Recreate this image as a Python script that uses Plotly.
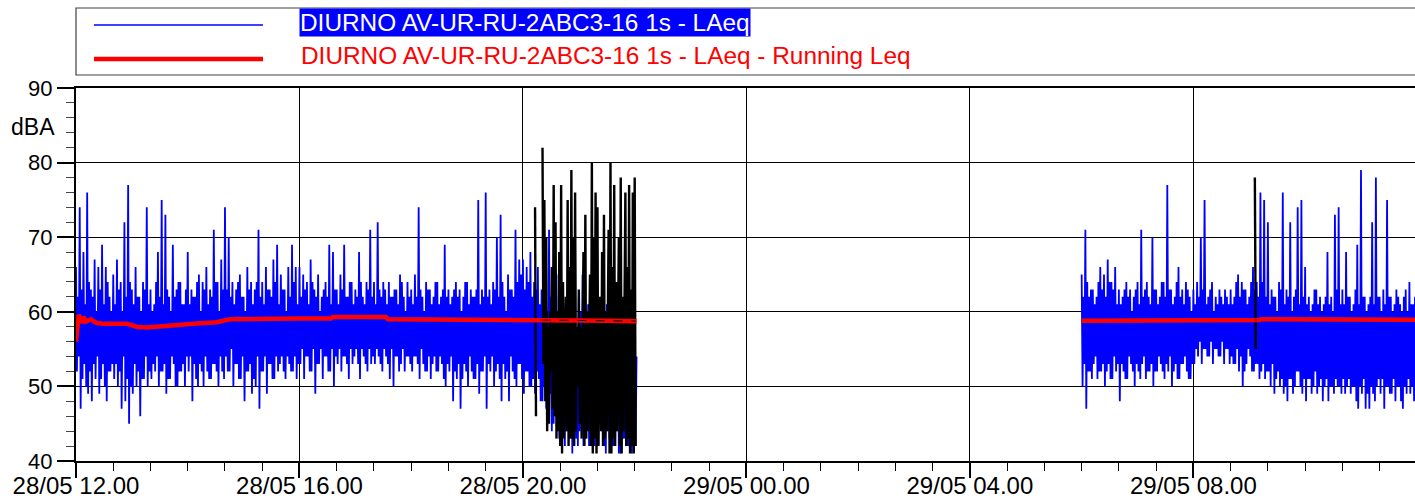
import pandas as pd
import plotly.graph_objects as go

# ---------------- data ----------------
# LAeq 1s, summarised as alternating peak / trough readings, one per minute
laeq_day_start = "2024-05-28 12:00"
laeq_step = "1min"
laeq_day = [
    66, 52, 62, 54, 74, 47, 63, 51, 68, 53, 61, 50, 76, 49, 64, 52, 63, 48, 62, 53,
    67, 51, 60, 54, 66, 49, 63, 51, 69, 53, 61, 50, 66, 48, 64, 52, 62, 52, 60, 53,  # 12:00
    65, 51, 61, 53, 67, 50, 63, 52, 64, 47, 60, 54, 72, 48, 62, 51, 77, 45, 64, 50,
    63, 49, 61, 53, 66, 50, 62, 52, 62, 46, 60, 51, 64, 51, 63, 54, 74, 50, 61, 52,  # 12:40
    63, 51, 60, 53, 61, 52, 64, 54, 68, 50, 62, 52, 75, 52, 61, 53, 73, 49, 63, 51,
    62, 51, 60, 54, 69, 53, 62, 50, 63, 50, 64, 52, 64, 52, 61, 53, 61, 50, 63, 54,  # 13:20
    68, 52, 61, 54, 63, 48, 62, 53, 62, 51, 64, 50, 65, 53, 60, 52, 64, 50, 63, 54,
    66, 52, 61, 51, 63, 51, 62, 53, 71, 53, 64, 52, 64, 50, 60, 54, 67, 52, 63, 51,  # 14:00
    74, 54, 63, 52, 70, 52, 62, 55, 64, 50, 61, 53, 63, 53, 64, 51, 65, 51, 62, 54,
    62, 48, 60, 52, 66, 52, 63, 53, 64, 49, 61, 51, 63, 50, 64, 54, 71, 47, 62, 52,  # 14:40
    64, 52, 61, 54, 66, 49, 63, 53, 63, 53, 62, 51, 67, 51, 64, 54, 69, 52, 61, 53,
    65, 54, 63, 52, 63, 51, 60, 54, 66, 53, 62, 52, 69, 52, 64, 54, 66, 51, 61, 53,  # 15:20
    66, 53, 62, 55, 65, 51, 63, 54, 64, 54, 61, 52, 67, 52, 64, 55, 63, 49, 62, 53,
    65, 53, 60, 55, 62, 51, 63, 54, 64, 54, 62, 52, 69, 52, 61, 55, 68, 50, 63, 54,  # 16:00
    63, 53, 61, 55, 65, 52, 63, 54, 69, 54, 62, 53, 62, 51, 64, 55, 64, 53, 61, 54,
    63, 55, 62, 53, 68, 51, 64, 55, 62, 54, 61, 53, 64, 52, 63, 55, 71, 53, 62, 54,  # 16:40
    64, 53, 61, 55, 72, 54, 63, 53, 62, 52, 64, 55, 63, 54, 61, 53, 64, 51, 62, 55,
    62, 50, 63, 54, 63, 54, 61, 52, 65, 53, 64, 55, 62, 52, 60, 54, 64, 54, 62, 53,  # 17:20
    63, 52, 61, 54, 65, 54, 62, 53, 74, 51, 63, 55, 62, 53, 60, 52, 64, 52, 63, 54,
    63, 51, 61, 53, 62, 54, 64, 52, 64, 52, 61, 54, 62, 53, 63, 51, 69, 50, 62, 53,  # 18:00
    63, 52, 61, 54, 62, 48, 63, 52, 64, 51, 62, 53, 63, 47, 60, 51, 62, 53, 64, 52,
    64, 50, 61, 54, 63, 52, 62, 51, 62, 51, 63, 53, 75, 49, 61, 52, 63, 52, 62, 54,  # 18:40
    76, 47, 62, 53, 63, 52, 61, 54, 64, 50, 63, 52, 70, 53, 62, 51, 73, 48, 64, 53,
    62, 51, 60, 52, 65, 48, 63, 54, 63, 52, 62, 51, 71, 50, 64, 53, 67, 53, 65, 51,  # 19:20
    67, 49, 63, 52, 66, 52, 64, 50, 68, 50, 62, 51, 64, 49, 63, 52, 66, 51, 61, 48,
    63, 48, 62, 50, 65, 47, 60, 46, 71, 49, 62, 44, 62, 45, 61, 47, 65, 44, 59, 43,  # 20:00
    63, 43, 58, 46, 60, 42, 61, 44, 64, 45, 57, 43, 61, 41, 60, 45, 69, 43, 58, 42,
    62, 44, 60, 46, 65, 42, 59, 43, 60, 45, 61, 42, 62, 43, 58, 44, 59, 42, 60, 45,  # 20:40
    60, 42, 57, 45, 62, 44, 59, 42, 58, 41, 61, 44, 61, 43, 58, 42, 59, 42, 60, 45,
    60, 44, 57, 41, 61, 41, 59, 43, 58, 43, 60, 42, 60, 42, 58, 44, 62, 41, 59, 43,  # 21:20
    58, 42, 54,                                                                      # 22:00
]
laeq_morning_start = "2024-05-29 06:00"
laeq_morning = [
    65, 50, 62, 53, 71, 47, 64, 52, 62, 52, 63, 51, 63, 53, 61, 54, 62, 51, 64, 52,
    66, 52, 63, 53, 65, 50, 62, 52, 67, 53, 64, 51, 64, 51, 63, 54, 66, 52, 61, 53,  # 06:00
    63, 48, 61, 53, 62, 52, 63, 51, 64, 51, 62, 54, 63, 53, 60, 52, 62, 50, 63, 53,
    64, 52, 61, 51, 71, 53, 62, 54, 63, 51, 64, 52, 62, 52, 61, 53, 70, 50, 63, 52,  # 06:40
    63, 52, 61, 54, 62, 53, 64, 52, 64, 51, 62, 53, 77, 52, 63, 54, 63, 50, 61, 52,
    62, 53, 64, 51, 66, 51, 62, 53, 63, 53, 61, 54, 64, 52, 63, 51, 62, 51, 60, 53,  # 07:20
    63, 53, 61, 55, 64, 54, 62, 56, 70, 53, 63, 55, 75, 55, 61, 54, 62, 54, 63, 56,
    64, 53, 60, 55, 62, 55, 61, 54, 63, 54, 62, 56, 61, 53, 63, 55, 62, 55, 61, 53,  # 08:00
    63, 54, 61, 53, 62, 53, 64, 55, 65, 52, 62, 54, 64, 50, 63, 52, 63, 53, 61, 55,
    62, 54, 64, 52, 66, 52, 63, 53, 64, 53, 62, 51, 76, 52, 64, 53, 75, 51, 62, 52,  # 08:40
    72, 52, 61, 50, 63, 53, 62, 49, 62, 51, 60, 52, 64, 50, 63, 51, 76, 49, 61, 50,
    63, 48, 62, 51, 72, 51, 60, 49, 62, 50, 63, 52, 74, 52, 61, 50, 75, 49, 62, 51,  # 09:20
    66, 48, 61, 51, 62, 51, 60, 49, 61, 50, 63, 52, 63, 49, 61, 50, 62, 51, 60, 48,
    61, 50, 62, 51, 68, 48, 61, 50, 62, 50, 60, 49, 73, 51, 63, 50, 74, 50, 61, 49,  # 10:00
    63, 51, 61, 49, 68, 50, 62, 51, 62, 49, 60, 50, 61, 50, 63, 48, 69, 47, 61, 50,
    79, 49, 62, 51, 62, 47, 60, 49, 61, 47, 62, 50, 72, 49, 61, 48, 78, 50, 62, 51,  # 10:40
    62, 49, 60, 51, 63, 47, 61, 50, 75, 50, 62, 49, 62, 49, 60, 51, 61, 48, 63, 50,
    62, 50, 61, 48, 60, 47, 62, 50, 63, 49, 60, 51, 64, 49, 61, 50, 61, 48, 62, 51,  # 11:20
    60,                                                                              # 12:00
]

# marked (black) portions of the LAeq record, 1-minute readings
marked_step = "1min"
marked_evening_start = "2024-05-28 20:13"
marked_evening = [
    74, 46, None, None, None, None, None, None,
    82, 53, 75, 48, 70, 44, 58, 45, 60, 52,
    66, 47, 77, 46, 72, 43, 60, 44, 68, 42, 77, 41, 64, 43, 55,
    62, 44, 75, 42, 66, 43, 79, 43, 70, 42, 76, 44, 58, 50,
    63, 45, 58, 43, 54,
    68, 42, 73, 43, 60, 44, 56,
    65, 42, 80, 41, 70, 43, 76, 41, 74, 42, 57,
    62, 44, 68, 42, 73, 43, 60, 44, 55,
    71, 41, 80, 41, 66, 43, 77, 42, 64, 44, 58,
    70, 42, 78, 41, 62, 44, 56,
    76, 42, 66, 43, 77, 41, 63, 42, 76, 41, 78, 42,
]
marked_morning_start = "2024-05-29 09:06"
marked_morning = [78, 55]

# Running Leq
running_day_times = [
    "2024-05-28 12:00", "2024-05-28 12:03", "2024-05-28 12:06", "2024-05-28 12:08",
    "2024-05-28 12:11", "2024-05-28 12:16", "2024-05-28 12:22", "2024-05-28 12:29",
    "2024-05-28 12:55", "2024-05-28 13:05", "2024-05-28 13:16", "2024-05-28 13:30",
    "2024-05-28 14:06", "2024-05-28 14:31", "2024-05-28 14:40", "2024-05-28 14:45",
    "2024-05-28 16:00", "2024-05-28 16:34", "2024-05-28 16:36", "2024-05-28 17:33",
    "2024-05-28 17:35", "2024-05-28 18:30", "2024-05-28 19:30", "2024-05-28 20:10",
    "2024-05-28 20:30", "2024-05-28 21:00", "2024-05-28 21:30", "2024-05-28 22:02",
]
running_day = [
    56.0, 59.6, 58.5, 59.3,
    58.7, 59.0, 58.5, 58.4,
    58.4, 58.0, 57.9, 58.0,
    58.4, 58.6, 58.8, 59.0,
    59.1, 59.1, 59.3, 59.3,
    59.0, 59.0, 59.0, 59.0,
    58.9, 58.85, 58.8, 58.75,
]
running_morning_times = [
    "2024-05-29 06:00", "2024-05-29 07:29", "2024-05-29 07:31", "2024-05-29 09:11",
    "2024-05-29 09:13", "2024-05-29 10:00", "2024-05-29 10:02", "2024-05-29 12:00",
]
running_morning = [58.8, 58.8, 58.9, 58.9, 59.0, 59.0, 58.95, 58.95]

# Running Leq during the marked periods (black dashes)
marked_running_times = ["2024-05-28 20:20", "2024-05-28 22:01", None,
                        "2024-05-29 09:06", "2024-05-29 09:08"]
marked_running = [58.9, 58.75, None, 58.9, 58.9]

x_range = ["2024-05-28 12:00", "2024-05-29 11:58"]
x_tick0 = "2024-05-28 12:00"
y_range = [40, 90]
legend_labels = ["DIURNO AV-UR-RU-2ABC3-16 1s - LAeq",
                 "DIURNO AV-UR-RU-2ABC3-16 1s - LAeq - Running Leq"]
y_title = "dBA"

# ---------------- helpers ----------------
def stamps(start, n, step):
    return [t.strftime("%Y-%m-%d %H:%M:%S") for t in pd.date_range(start, periods=n, freq=step)]


def joined(*parts):
    xs, ys = [], []
    for i, (x, y) in enumerate(parts):
        if i:
            xs.append(None)
            ys.append(None)
        xs += list(x)
        ys += list(y)
    return xs, ys


W, H = 1415, 499
ML, MT, MB, MR = 76, 88, 38, 0
PW, PH = W - ML - MR, H - MT - MB


def px(x):
    return (x - ML) / PW


def py(y):
    return (H - MB - y) / PH


FONT = "Liberation Sans, Arial, sans-serif"
BLUE, RED, BLACK = "#0000FF", "#FF0000", "#000000"

# ---------------- traces ----------------
bx, by = joined(
    (stamps(laeq_day_start, len(laeq_day), laeq_step), laeq_day),
    (stamps(laeq_morning_start, len(laeq_morning), laeq_step), laeq_morning),
)
kx, ky = joined(
    (stamps(marked_evening_start, len(marked_evening), marked_step), marked_evening),
    (stamps(marked_morning_start, len(marked_morning), marked_step), marked_morning),
)
rx, ry = joined((running_day_times, running_day), (running_morning_times, running_morning))

fig = go.Figure()
fig.add_trace(go.Scatter(x=bx, y=by, mode="lines", name=legend_labels[0],
                         line=dict(color=BLUE, width=1.8), showlegend=False))
fig.add_trace(go.Scatter(x=kx, y=ky, mode="lines", name="marked",
                         line=dict(color=BLACK, width=2.4), showlegend=False))
fig.add_trace(go.Scatter(x=rx, y=ry, mode="lines", name=legend_labels[1],
                         line=dict(color=RED, width=4.5), showlegend=False))
fig.add_trace(go.Scatter(x=marked_running_times, y=marked_running, mode="lines",
                         name="marked running", line=dict(color=BLACK, width=1, dash="dash"),
                         showlegend=False))

# ---------------- legend (drawn) ----------------
shapes = [
    dict(type="rect", xref="paper", yref="paper", x0=px(76), x1=px(1430), y0=py(75), y1=py(8),
         line=dict(color="#404040", width=1.2), fillcolor="rgba(0,0,0,0)", layer="above"),
    dict(type="line", xref="paper", yref="paper", x0=px(94), x1=px(263), y0=py(25), y1=py(25),
         line=dict(color=BLUE, width=1.5)),
    dict(type="line", xref="paper", yref="paper", x0=px(94), x1=px(263), y0=py(59), y1=py(59),
         line=dict(color=RED, width=4.5)),
]
annotations = [
    dict(text=legend_labels[0], xref="paper", yref="paper", x=px(299), y=py(22),
         xanchor="left", yanchor="middle", showarrow=False, bgcolor=BLUE, borderpad=0,
         font=dict(family=FONT, size=24.4, color="white")),
    dict(text=legend_labels[1], xref="paper", yref="paper", x=px(299), y=py(56),
         xanchor="left", yanchor="middle", showarrow=False,
         font=dict(family=FONT, size=24.4, color=RED)),
    dict(text=y_title, xref="paper", yref="paper", x=px(57), y=py(127),
         xanchor="right", yanchor="middle", showarrow=False,
         font=dict(family=FONT, size=23, color=BLACK)),
]

fig.update_layout(
    width=W, height=H,
    margin=dict(l=ML, r=MR, t=MT, b=MB, pad=0),
    paper_bgcolor="white", plot_bgcolor="white",
    showlegend=False,
    font=dict(family=FONT, color=BLACK),
    shapes=shapes, annotations=annotations,
    xaxis=dict(
        type="date", range=x_range, tick0=x_tick0, dtick=4 * 3600 * 1000,
        tickformat="%d/%m %H.%M", ticks="outside", ticklen=15, tickwidth=1.5, tickcolor=BLACK,
        ticklabelstandoff=-13,
        tickfont=dict(family=FONT, size=24, color=BLACK),
        showgrid=True, gridcolor=BLACK, gridwidth=1,
        showline=True, linecolor=BLACK, linewidth=2, mirror=True,
        zeroline=False, automargin=False,
        minor=dict(tick0=x_tick0, dtick=40 * 60 * 1000, ticks="outside", ticklen=8,
                   tickwidth=1, tickcolor=BLACK, showgrid=False),
    ),
    yaxis=dict(
        range=y_range, dtick=10, ticks="outside", ticklen=17, tickwidth=1.5, tickcolor=BLACK,
        tickfont=dict(family=FONT, size=22, color=BLACK),
        showgrid=True, gridcolor=BLACK, gridwidth=1,
        showline=True, linecolor=BLACK, linewidth=2, mirror=False,
        zeroline=False, automargin=False,
        minor=dict(dtick=2, ticks="outside", ticklen=8, tickwidth=1, tickcolor="#444444",
                   showgrid=False),
    ),
)

fig.write_html("out.html", config={"displayModeBar": False},
               post_script="document.body.style.margin='0px';")
